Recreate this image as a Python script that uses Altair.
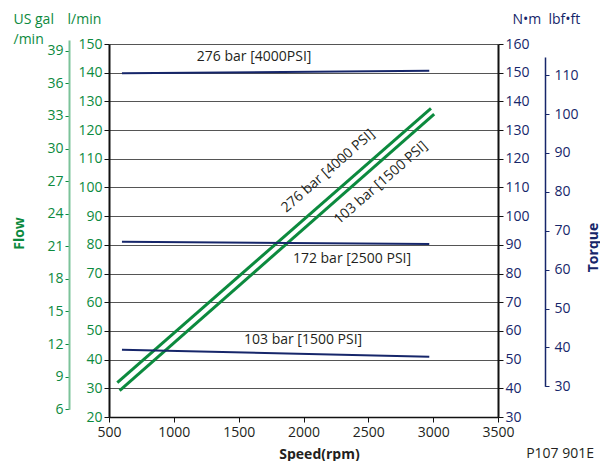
import altair as alt
import pandas as pd

# ---- data ----
rpm_ticks = [500, 1000, 1500, 2000, 2500, 3000, 3500]
lpm_ticks = list(range(20, 151, 10))
gal_ticks = list(range(6, 40, 3))
nm_ticks = list(range(30, 161, 10))
lbf_ticks = list(range(30, 111, 10))

flow_series = ["276 bar [4000 PSI]", "103 bar [1500 PSI]"]
flow_rpm_start = [564, 582]
flow_rpm_end = [2983, 3008]
flow_lpm_start = [32.0, 29.2]
flow_lpm_end = [127.6, 125.6]

torque_series = ["276 bar [4000PSI]", "172 bar [2500 PSI]", "103 bar [1500 PSI]"]
torque_rpm_start = [600, 600, 600]
torque_rpm_end = [2970, 2970, 2970]
torque_nm_start = [149.8, 91.1, 53.4]
torque_nm_end = [150.7, 90.3, 51.0]

torque_label_rpm = [1619, 2374, 1997]
torque_label_nm = [155.5, 85.1, 56.8]

flow_label_rpm = [2190, 2598]
flow_label_lpm = [105.7, 101.6]

LPM_PER_GAL = 3.78541
NM_PER_LBF = 1.35582

GREEN = "#0c8a3e"
GREEN_LIGHT = "#7cc39a"
NAVY = "#16266a"
TEXT = "#231f20"
FONT = "Open Sans"

W, H = 389, 373

flow_df = pd.DataFrame({
    "series": flow_series * 2,
    "rpm": flow_rpm_start + flow_rpm_end,
    "lpm": flow_lpm_start + flow_lpm_end,
})
torque_df = pd.DataFrame({
    "series": torque_series * 2,
    "rpm": torque_rpm_start + torque_rpm_end,
    "nm": torque_nm_start + torque_nm_end,
})
tlab_df = pd.DataFrame({"label": torque_series, "rpm": torque_label_rpm, "nm": torque_label_nm})
flab_df = pd.DataFrame({"label": flow_series, "rpm": flow_label_rpm, "lpm": flow_label_lpm})

lpm_min, lpm_max = 20, 150
nm_min, nm_max = 30, 160
px = H / (lpm_max - lpm_min)

gal_lo, gal_hi = 6, 40
gal_range = [(lpm_max - gal_lo * LPM_PER_GAL) * px, (lpm_max - gal_hi * LPM_PER_GAL) * px]
lbf_lo, lbf_hi = 30, 114.7
lbf_range = [(nm_max - lbf_lo * NM_PER_LBF) * px, (nm_max - lbf_hi * NM_PER_LBF) * px]

x_enc = alt.X("rpm:Q", scale=alt.Scale(domain=[500, 3500], nice=False, zero=False),
              axis=alt.Axis(values=rpm_ticks, grid=False, title="Speed(rpm)", format="d",
                            labelFlush=False,
                            domainColor="#111", domainWidth=1.5, tickColor="#111", tickSize=5,
                            labelColor=TEXT, labelFontSize=14, labelPadding=3,
                            titleFontSize=14, titleFontWeight="bold", titleColor=TEXT,
                            titleX=210, titleAlign="center", titlePadding=8))

flow_lines = alt.Chart(flow_df).mark_line(color=GREEN, strokeWidth=3).encode(
    x=x_enc,
    y=alt.Y("lpm:Q", scale=alt.Scale(domain=[lpm_min, lpm_max], nice=False, zero=False),
            axis=alt.Axis(orient="left", values=lpm_ticks, grid=True, gridColor="#555",
                          gridWidth=1, domainColor="#111", domainWidth=2, tickColor="#111",
                          tickSize=5, labelColor=GREEN, labelFontSize=14, labelPadding=2,
                          title="l/min", titleAngle=0, titleAlign="left",
                          titleBaseline="alphabetic", titleX=-42, titleY=-21,
                          titleColor=GREEN, titleFontSize=14, titleFontWeight="normal")),
    detail="series:N",
)

gal_axis = alt.Chart(flow_df).transform_calculate(gal=f"datum.lpm / {LPM_PER_GAL}").mark_line(opacity=0).encode(
    x="rpm:Q",
    y=alt.Y("gal:Q", scale=alt.Scale(domain=[gal_lo, gal_hi], range=gal_range, nice=False, zero=False),
            axis=alt.Axis(orient="left", offset=40, values=gal_ticks, grid=False,
                          domainColor=GREEN_LIGHT, domainWidth=2, tickColor=GREEN, tickSize=4,
                          labelColor=GREEN, labelFontSize=14, labelPadding=2,
                          title=["US gal", "/min"], titleAngle=0, titleAlign="left",
                          titleBaseline="alphabetic", titleX=-56, titleY=-21, titleLineHeight=20,
                          titleColor=GREEN, titleFontSize=14, titleFontWeight="normal")),
    detail="series:N",
)

flow_title = alt.Chart(flow_df).mark_line(opacity=0).encode(
    x="rpm:Q",
    y=alt.Y("lpm:Q", scale=alt.Scale(domain=[lpm_min, lpm_max], nice=False, zero=False),
            axis=alt.Axis(orient="left", offset=40, domain=False, ticks=False, labels=False,
                          grid=False, title="Flow", titleAngle=270, titleAlign="center",
                          titleBaseline="middle", titleX=-50, titleY=189,
                          titleColor=GREEN, titleFontSize=14, titleFontWeight="bold")),
    detail="series:N",
)

torque_lines = alt.Chart(torque_df).mark_line(color=NAVY, strokeWidth=2).encode(
    x="rpm:Q",
    y=alt.Y("nm:Q", scale=alt.Scale(domain=[nm_min, nm_max], nice=False, zero=False),
            axis=alt.Axis(orient="right", values=nm_ticks, grid=False, domainColor="#111",
                          domainWidth=2, tickColor="#111", tickSize=5, labelColor=NAVY,
                          labelFontSize=14, labelPadding=2,
                          title="N•m", titleAngle=0, titleAlign="left",
                          titleBaseline="alphabetic", titleX=14, titleY=-21,
                          titleColor=NAVY, titleFontSize=14, titleFontWeight="normal")),
    detail="series:N",
)

lbf_axis = alt.Chart(torque_df).transform_calculate(lbf=f"datum.nm / {NM_PER_LBF}").mark_line(opacity=0).encode(
    x="rpm:Q",
    y=alt.Y("lbf:Q", scale=alt.Scale(domain=[lbf_lo, lbf_hi], range=lbf_range, nice=False, zero=False),
            axis=alt.Axis(orient="right", offset=47, values=lbf_ticks, grid=False,
                          domainColor=NAVY, domainWidth=1.5, tickColor=NAVY, tickSize=4,
                          labelColor=NAVY, labelFontSize=14, labelPadding=5,
                          title="lbf•ft", titleAngle=0, titleAlign="left",
                          titleBaseline="alphabetic", titleX=3, titleY=-21,
                          titleColor=NAVY, titleFontSize=14, titleFontWeight="normal")),
    detail="series:N",
)

torque_title = alt.Chart(torque_df).mark_line(opacity=0).encode(
    x="rpm:Q",
    y=alt.Y("nm:Q", scale=alt.Scale(domain=[nm_min, nm_max], nice=False, zero=False),
            axis=alt.Axis(orient="right", offset=47, domain=False, ticks=False, labels=False,
                          grid=False, title="Torque", titleAngle=270, titleAlign="center",
                          titleBaseline="middle", titleX=48, titleY=203,
                          titleColor=NAVY, titleFontSize=14, titleFontWeight="bold")),
    detail="series:N",
)

torque_labels = alt.Chart(tlab_df).mark_text(fontSize=14, color=TEXT, font=FONT).encode(
    x="rpm:Q",
    y=alt.Y("nm:Q", scale=alt.Scale(domain=[nm_min, nm_max], nice=False, zero=False), axis=None),
    text="label:N",
)

flow_labels = alt.Chart(flab_df).mark_text(fontSize=14, color=TEXT, font=FONT, angle=319).encode(
    x="rpm:Q",
    y=alt.Y("lpm:Q", scale=alt.Scale(domain=[lpm_min, lpm_max], nice=False, zero=False), axis=None),
    text="label:N",
)

chart = alt.layer(
    flow_lines, gal_axis, flow_title, torque_lines, lbf_axis, torque_title,
    torque_labels, flow_labels,
).resolve_scale(y="independent").properties(
    width=W, height=H,
    padding={"left": 4, "top": 4, "right": 0, "bottom": 0},
    title=alt.TitleParams("P107 901E", orient="bottom", anchor="end", fontSize=14,
                          fontWeight="normal", color=TEXT, font=FONT, offset=-14, dx=-6),
).configure_view(stroke=None).configure_axis(
    labelFont=FONT, titleFont=FONT,
).configure_title(font=FONT)

chart.save("out.html", embed_options={"renderer": "svg", "actions": False})
